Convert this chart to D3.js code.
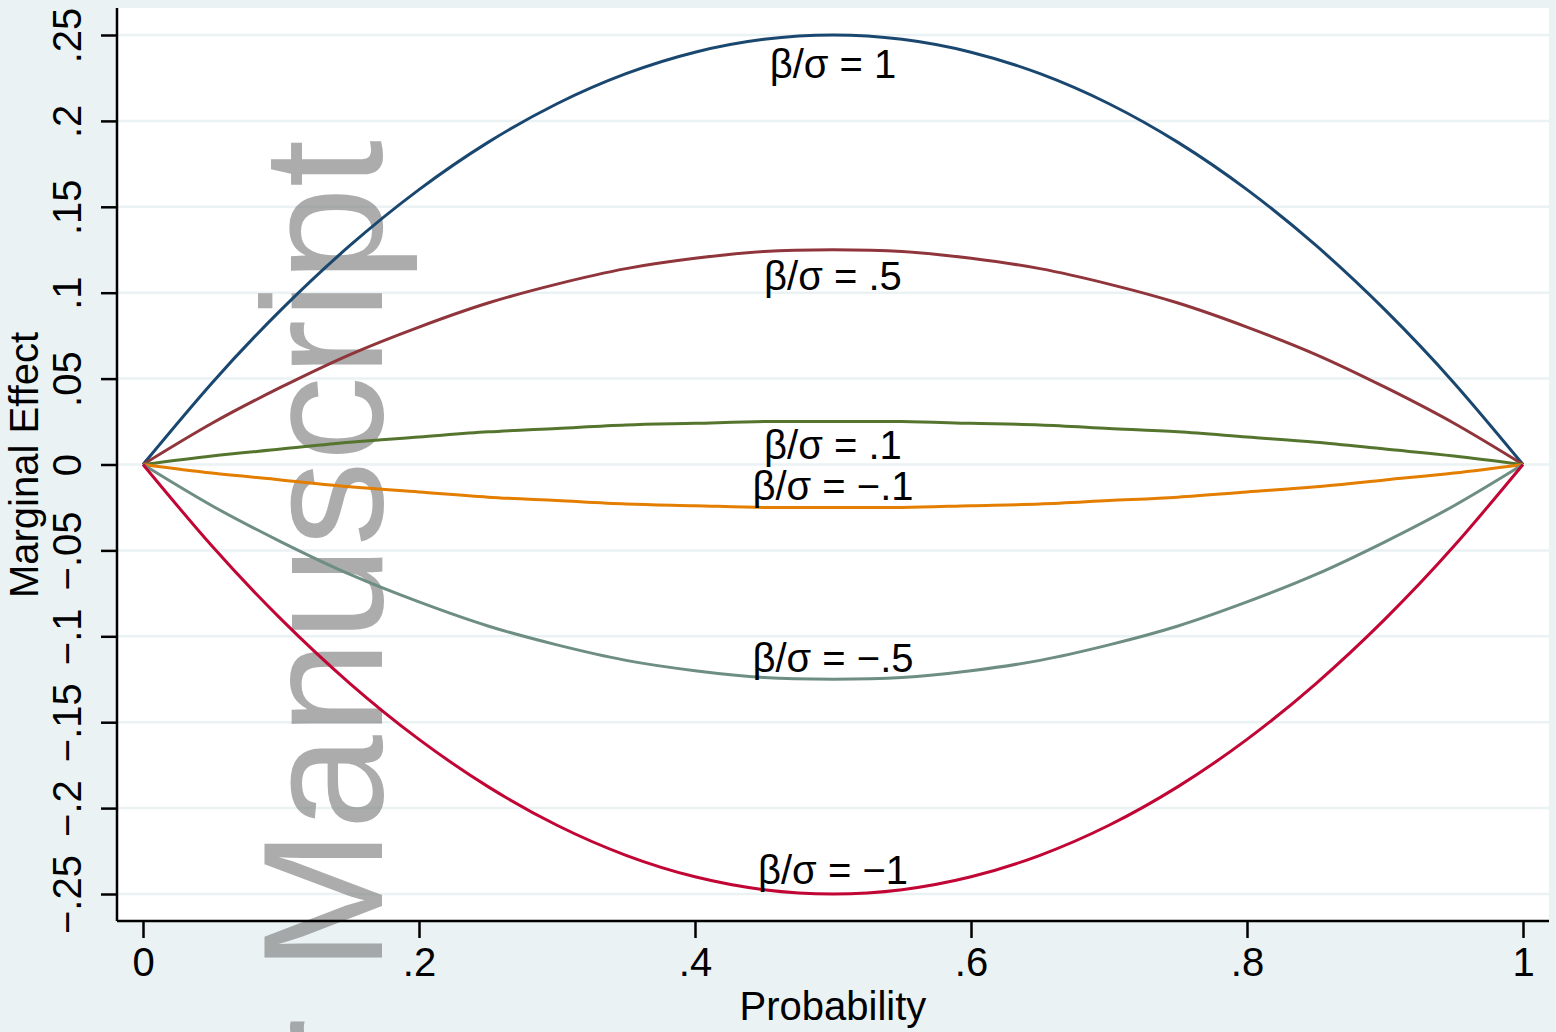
<!DOCTYPE html>
<html>
<head>
<meta charset="utf-8">
<script src="https://cdn.jsdelivr.net/npm/d3@7"></script>
<style>
  body { margin: 0; background: #eaf2f3; }
  svg { display: block; font-family: "Liberation Sans", Arial, sans-serif; }
</style>
</head>
<body>
<svg id="chart"></svg>
<script>
// probability grid (x) and the marginal effect
const probs = [0, .05, .1, .15, .2, .25, .3, .35, .4, .45, .5,
               .55, .6, .65, .7, .75, .8, .85, .9, .95, 1];
const effPos1  = [0, .0475, .09, .1275, .16, .1875, .21, .2275, .24, .2475, .25,
                  .2475, .24, .2275, .21, .1875, .16, .1275, .09, .0475, 0];
const effPos05 = [0, .024, .045, .064, .08, .094, .105, .114, .12, .124, .125,
                  .124, .12, .114, .105, .094, .08, .064, .045, .024, 0];
const effPos01 = [0, .005, .009, .013, .016, .019, .021, .023, .024, .025, .025,
                  .025, .024, .023, .021, .019, .016, .013, .009, .005, 0];
const effNeg01 = [0, -.005, -.009, -.013, -.016, -.019, -.021, -.023, -.024, -.025, -.025,
                  -.025, -.024, -.023, -.021, -.019, -.016, -.013, -.009, -.005, 0];
const effNeg05 = [0, -.024, -.045, -.064, -.08, -.094, -.105, -.114, -.12, -.124, -.125,
                  -.124, -.12, -.114, -.105, -.094, -.08, -.064, -.045, -.024, 0];
const effNeg1  = [0, -.0475, -.09, -.1275, -.16, -.1875, -.21, -.2275, -.24, -.2475, -.25,
                  -.2475, -.24, -.2275, -.21, -.1875, -.16, -.1275, -.09, -.0475, 0];

const seriesNames = ["β/σ = 1", "β/σ = .5", "β/σ = .1", "β/σ = −.1", "β/σ = −.5", "β/σ = −1"];
const seriesVals = [effPos1, effPos05, effPos01, effNeg01, effNeg05, effNeg1];
const colors = ["#1a476f", "#90353b", "#55752f", "#e37e00", "#6e8e84", "#c10534"];

const xTicks = [0, .2, .4, .6, .8, 1];
const xTickLabels = ["0", ".2", ".4", ".6", ".8", "1"];
const yTicks = [-.25, -.2, -.15, -.1, -.05, 0, .05, .1, .15, .2, .25];
const yTickLabels = ["−.25", "−.2", "−.15", "−.1", "−.05", "0", ".05", ".1", ".15", ".2", ".25"];

const width = 1556, height = 1032;
const svg = d3.select("#chart").attr("width", width).attr("height", height);

svg.append("rect").attr("width", width).attr("height", height).attr("fill", "#eaf2f3");

// plot region
const plotL = 117, plotR = 1549, plotT = 8, plotB = 921;
svg.append("rect")
  .attr("x", plotL).attr("y", plotT)
  .attr("width", plotR - plotL).attr("height", plotB - plotT)
  .attr("fill", "#fff");

const x = d3.scaleLinear().domain([0, 1]).range([143, 1523]);
const y = d3.scaleLinear().domain([-.25, .25]).range([894, 35]);

// gridlines
svg.append("g")
  .selectAll("line")
  .data(yTicks)
  .enter()
  .append("line")
  .attr("x1", plotL + 1).attr("x2", plotR)
  .attr("y1", d => y(d)).attr("y2", d => y(d))
  .attr("stroke", "#eaf2f3").attr("stroke-width", 2.5);

// watermark, under the curves (cut off at the bottom edge as in the original)
svg.append("text")
  .attr("transform", "translate(382,140) rotate(-90)")
  .attr("text-anchor", "end")
  .attr("font-size", 170)
  .attr("fill", "#808080")
  .attr("fill-opacity", 0.65)
  .text("Author Manuscript");

// curves
const line = d3.line()
  .x(d => x(d[0]))
  .y(d => y(d[1]))
  .curve(d3.curveNatural);

seriesVals.forEach((vals, i) => {
  svg.append("path")
    .datum(probs.map((p, j) => [p, vals[j]]))
    .attr("d", line)
    .attr("fill", "none")
    .attr("stroke", colors[i])
    .attr("stroke-width", 3);
});

// curve labels at p = .5
const labelOffsets = [43, 40, 37, -7, -7, -10];
seriesVals.forEach((vals, i) => {
  svg.append("text")
    .attr("x", x(probs[10]))
    .attr("y", y(vals[10]) + labelOffsets[i])
    .attr("text-anchor", "middle")
    .attr("font-size", 40)
    .attr("fill", "#000")
    .text(seriesNames[i]);
});

// axes
const yAxis = d3.axisLeft(y)
  .tickValues(yTicks)
  .tickFormat((d, i) => yTickLabels[i])
  .tickSize(16)
  .tickSizeOuter(0);
const gy = svg.append("g")
  .attr("transform", `translate(${plotL},0)`)
  .call(yAxis);
gy.select(".domain").attr("d", `M0,${plotT}V${plotB}`).attr("stroke", "#000").attr("stroke-width", 2.5);
gy.selectAll(".tick line").attr("stroke", "#000").attr("stroke-width", 2.5);
gy.selectAll(".tick text")
  .attr("font-size", 40)
  .attr("font-family", "Liberation Sans, Arial, sans-serif")
  .attr("fill", "#000")
  .attr("transform", "rotate(-90)")
  .attr("text-anchor", "middle")
  .attr("x", 0)
  .attr("y", -36)
  .attr("dy", 0);

const xAxis = d3.axisBottom(x)
  .tickValues(xTicks)
  .tickFormat((d, i) => xTickLabels[i])
  .tickSize(17)
  .tickSizeOuter(0);
const gx = svg.append("g")
  .attr("transform", `translate(0,${plotB})`)
  .call(xAxis);
gx.select(".domain").attr("d", `M${plotL},0H${plotR}`).attr("stroke", "#000").attr("stroke-width", 2.5);
gx.selectAll(".tick line").attr("stroke", "#000").attr("stroke-width", 2.5);
gx.selectAll(".tick text")
  .attr("font-size", 40)
  .attr("font-family", "Liberation Sans, Arial, sans-serif")
  .attr("fill", "#000")
  .attr("y", 55)
  .attr("dy", 0);

// axis titles
svg.append("text")
  .attr("transform", "translate(38,465) rotate(-90)")
  .attr("text-anchor", "middle")
  .attr("font-size", 40)
  .text("Marginal Effect");

svg.append("text")
  .attr("x", 833).attr("y", 1020)
  .attr("text-anchor", "middle")
  .attr("font-size", 40)
  .text("Probability");
</script>
</body>
</html>
